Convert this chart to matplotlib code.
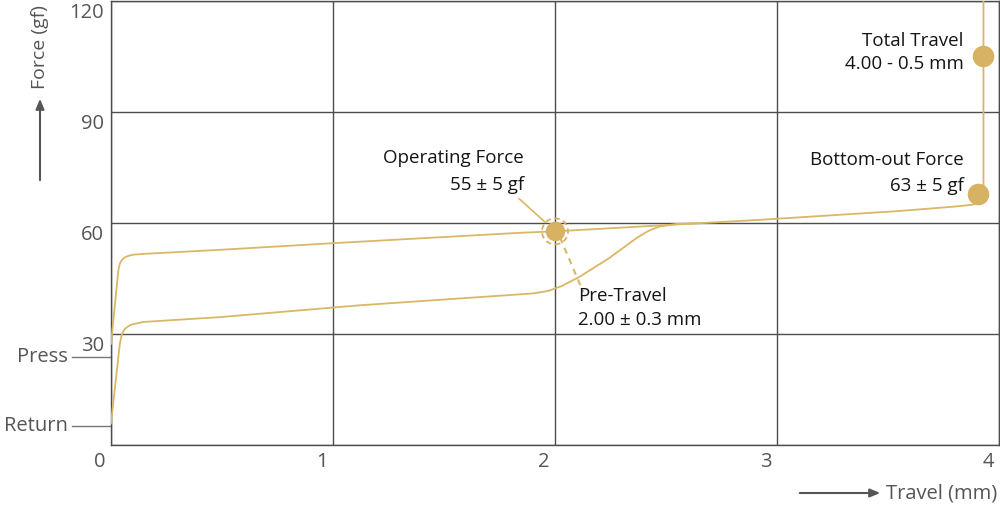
import matplotlib
matplotlib.use("Agg")
import matplotlib.pyplot as plt
from matplotlib.transforms import ScaledTranslation
from matplotlib.patches import Circle

plt.rcParams['font.family'] = ['Open Sans', 'DejaVu Sans']

# ---- data ----
press_travel = [0.0, 0.033, 0.040, 0.050, 0.063, 0.080, 0.100, 0.145, 0.49, 1.00, 1.84, 2.00,
                2.65, 2.92, 3.55, 3.80, 3.88, 3.905, 3.92, 3.928, 3.93, 3.93]
press_force = [27.3, 47.1, 49.0, 50.0, 50.7, 51.1, 51.4, 51.6, 52.7, 54.5, 57.3, 57.7,
               59.9, 60.8, 63.2, 64.4, 64.9, 65.3, 66.0, 67.2, 68.5, 121.0]
return_travel = [0.0, 0.040, 0.048, 0.056, 0.063, 0.080, 0.093, 0.145, 0.49, 1.12, 1.90, 1.97,
                 2.03, 2.11, 2.24, 2.37, 2.42, 2.47, 2.55, 2.65]
return_force = [5.8, 27.4, 29.6, 30.7, 31.4, 32.1, 32.5, 33.2, 34.5, 37.7, 40.9, 41.6,
                42.9, 45.4, 50.3, 56.0, 57.8, 59.0, 59.7, 59.9]

x_ticks = [0, 1, 2, 3, 4]
x_tick_labels = ['0', '1', '2', '3', '4']
y_ticks = [0, 30, 60, 90, 120]
y_tick_labels = ['', '30', '60', '90', '120']

press_level = 23.8
return_level = 5.1

operating_point = (2.0, 57.7)
bottom_out_point = (3.907, 67.8)
total_travel_point = (3.928, 105.2)

op_leader_x = [1.839, 1.955]
op_leader_y = [66.5, 60.2]
pre_leader_x = [2.022, 2.128]
pre_leader_y = [56.1, 41.2]

GOLD = '#dab765'
DOT = '#d6b262'
GRID = '#4d4d4d'
TXT = '#555555'

fig = plt.figure(figsize=(10, 5.19), dpi=100)
ax = fig.add_axes([0.111, 1 - 444.7 / 519, 0.888, (444.7 - 1) / 519])
ax.set_xlim(0, 4)
ax.set_ylim(0, 120)

ax.set_xticks(x_ticks)
ax.set_xticklabels(x_tick_labels)
ax.set_yticks(y_ticks)
ax.set_yticklabels(y_tick_labels)
ax.tick_params(length=0, labelsize=14.5, labelcolor=TXT)
ax.tick_params(axis='x', pad=5)
ax.tick_params(axis='y', pad=5)
for lab in ax.get_xticklabels():
    lab.set_transform(lab.get_transform() + ScaledTranslation(-11 / 100, 0, fig.dpi_scale_trans))
for lab in ax.get_yticklabels():
    lab.set_transform(lab.get_transform() + ScaledTranslation(0, -10 / 100, fig.dpi_scale_trans))

ax.grid(True, color=GRID, lw=1)
ax.set_axisbelow(True)
for s in ax.spines.values():
    s.set_color(GRID)
    s.set_linewidth(1)

# curves
ax.plot(press_travel, press_force, color=GOLD, lw=1.3, solid_joinstyle='round', zorder=3)
ax.plot(return_travel, return_force, color=GOLD, lw=1.3, solid_joinstyle='round', zorder=3)

# leaders
ax.plot(op_leader_x, op_leader_y, color=GOLD, lw=1.2, zorder=3)
ax.plot(pre_leader_x, pre_leader_y, color=GOLD, lw=1.5, ls=(0, (3, 2.5)), zorder=3)

# dots
ax.plot(*operating_point, 'o', ms=13, color=DOT, zorder=4)
ring = Circle((0, 0), radius=0.13, fill=False, ec=DOT, lw=1.3, ls=(0, (3, 2)),
              transform=fig.dpi_scale_trans + ScaledTranslation(*operating_point, ax.transData), zorder=4)
ax.add_artist(ring)
ax.plot(*bottom_out_point, 'o', ms=14.5, color=DOT, zorder=4, clip_on=False)
ax.plot(*total_travel_point, 'o', ms=14.5, color=DOT, zorder=4, clip_on=False)

# annotation texts
fs = 13.5
tkw = dict(va='center', fontsize=fs, color='#151515', fontweight='medium')
ax.text(1.86, 77.5, 'Operating Force', ha='right', **tkw)
ax.text(1.86, 70.3, '55 ± 5 gf', ha='right', **tkw)
ax.text(2.104, 40.1, 'Pre-Travel', ha='left', **tkw)
ax.text(2.104, 33.6, '2.00 ± 0.3 mm', ha='left', **tkw)
ax.text(3.84, 109.2, 'Total Travel', ha='right', **tkw)
ax.text(3.84, 103.0, '4.00 - 0.5 mm', ha='right', **tkw)
ax.text(3.84, 77.1, 'Bottom-out Force', ha='right', **tkw)
ax.text(3.84, 70.0, '63 ± 5 gf', ha='right', **tkw)

# Press / Return markers
yt = ax.get_yaxis_transform()
ax.plot([-0.044, 0], [press_level, press_level], color='#777', lw=1, transform=yt, clip_on=False)
ax.plot([-0.044, 0], [return_level, return_level], color='#777', lw=1, transform=yt, clip_on=False)
ax.text(-0.049, press_level, 'Press', ha='right', va='center', fontsize=14.5, color=TXT, transform=yt)
ax.text(-0.049, return_level, 'Return', ha='right', va='center', fontsize=14.5, color=TXT, transform=yt)

# axis labels with arrows
H = 519
fig.text(40 / 1000, 1 - 47 / H, 'Force (gf)', rotation=90, ha='center', va='center', fontsize=14, color=TXT)
ax.annotate('', xy=(40, H - 96), xytext=(40, H - 183), xycoords='figure pixels',
            textcoords='figure pixels',
            arrowprops=dict(arrowstyle='-|>,head_length=0.6,head_width=0.25', color=TXT, lw=1.5))
fig.text(886 / 1000, 1 - 493 / H, 'Travel (mm)', ha='left', va='center', fontsize=14.5, color=TXT)
ax.annotate('', xy=(883, H - 493), xytext=(797, H - 493), xycoords='figure pixels',
            textcoords='figure pixels',
            arrowprops=dict(arrowstyle='-|>,head_length=0.6,head_width=0.25', color=TXT, lw=1.5))

fig.savefig('out.png', dpi=100)
